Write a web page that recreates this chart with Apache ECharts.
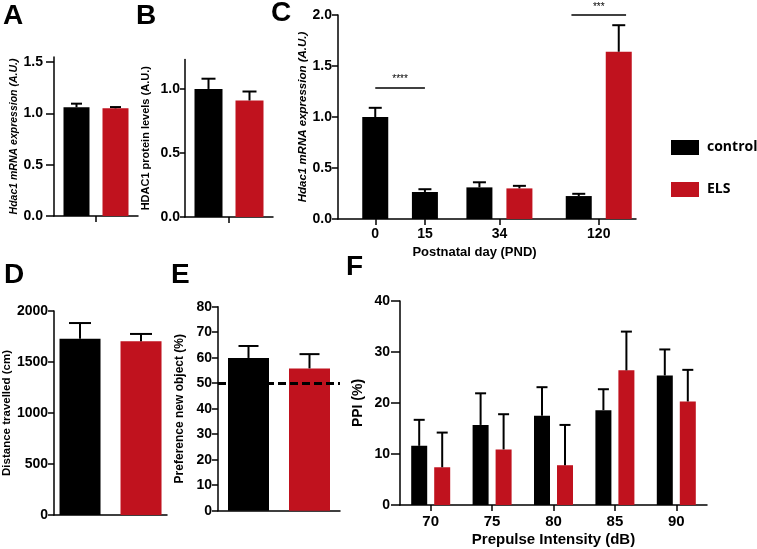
<!DOCTYPE html>
<html><head><meta charset="utf-8">
<script src="https://cdn.jsdelivr.net/npm/echarts@6/dist/echarts.min.js"></script>
<style>html,body{margin:0;padding:0;background:#fff}#chart{width:757px;height:549px}</style>
</head><body><div id="chart"></div>
<script>
// ---------------- data ----------------
const groupNames = ['control', 'ELS'];
// A: Hdac1 mRNA
const aMean = [1.06, 1.05];
const aErr = [0.035, 0.012];
const aTicks = [0, 0.5, 1.0, 1.5];
// B: HDAC1 protein
const bMean = [1.00, 0.91];
const bErr = [0.08, 0.07];
const bTicks = [0, 0.5, 1.0];
// C: Hdac1 mRNA over postnatal days
const cDays = ['0', '15', '34', '120'];
const cControlMean = [1.00, 0.265, 0.31, 0.225];
const cControlErr = [0.09, 0.027, 0.05, 0.022];
const cElsMean = [null, null, 0.30, 1.64];
const cElsErr = [null, null, 0.025, 0.26];
const cSigLabels = ['****', '***'];
const cSigLevels = [1.29, 2.0];
// D: distance travelled
const dMean = [1728, 1703];
const dErr = [154, 72];
// E: preference new object
const eMean = [59.9, 55.8];
const eErr = [4.7, 5.6];
const eChance = 50;
// F: PPI
const fDoses = ['70', '75', '80', '85', '90'];
const fControlMean = [11.6, 15.7, 17.5, 18.6, 25.4];
const fControlErr = [5.1, 6.2, 5.6, 4.1, 5.1];
const fElsMean = [7.4, 10.9, 7.8, 26.4, 20.3];
const fElsErr = [6.8, 6.9, 7.9, 7.6, 6.2];

// ---------------- styling / layout ----------------
const BLACK = '#000000', RED = '#c0121e';
const FONT = 'Liberation Sans';
const COLORS = [BLACK, RED];
const C_SLOTS = 12;
const cSlotOf = [1, 3, 6, 10];

const axisLineStyle = { color: '#000', width: 1.5 };

function errRender(offset, cap) {
  return function (params, api) {
    const x = api.value(0), m = api.value(1), e = api.value(2);
    const p0 = api.coord([x, m]);
    const p1 = api.coord([x, m + e]);
    const cx = p0[0] + offset;
    return { type: 'group', children: [
      { type: 'line', shape: { x1: cx, y1: p0[1], x2: cx, y2: p1[1] }, style: { stroke: '#000', lineWidth: 2 } },
      { type: 'line', shape: { x1: cx - cap / 2, y1: p1[1], x2: cx + cap / 2, y2: p1[1] }, style: { stroke: '#000', lineWidth: 2 } }
    ] };
  };
}
function errSeries(xi, yi, data, offset, cap) {
  return { type: 'custom', name: 'err', xAxisIndex: xi, yAxisIndex: yi, data: data,
    encode: { x: 0, y: 1 }, renderItem: errRender(offset, cap), z: 5, silent: true };
}
// two-bar panel (one category, control vs ELS)
function pairPanel(xi, yi, means, errs, bw, gap, cap) {
  const out = [];
  const off = (bw + gap) / 2;
  means.forEach(function (m, k) {
    out.push({ type: 'bar', name: groupNames[k], xAxisIndex: xi, yAxisIndex: yi, data: [m],
      barWidth: bw, barGap: (gap / bw * 100) + '%', itemStyle: { color: COLORS[k] }, z: 2 });
    out.push(errSeries(xi, yi, [[0, m, errs[k]]], k === 0 ? -off : off, cap));
  });
  return out;
}
function yAxis(gi, max, interval, tickLen, margin, name, nameGap, nameSize, italic, decimals, custom) {
  const ax = {
    type: 'value', gridIndex: gi, min: 0, max: max, interval: interval,
    axisLine: { show: true, lineStyle: axisLineStyle },
    axisTick: { show: true, length: tickLen, lineStyle: axisLineStyle },
    splitLine: { show: false },
    axisLabel: { margin: margin, color: '#000', fontFamily: FONT, fontWeight: 'bold', fontSize: 14,
      formatter: function (v) { return decimals ? v.toFixed(decimals) : String(v); } },
    name: name, nameLocation: 'middle', nameRotate: 90, nameGap: nameGap,
    nameTextStyle: { color: '#000', fontFamily: FONT, fontWeight: 'bold', fontSize: nameSize, fontStyle: italic ? 'italic' : 'normal' }
  };
  if (custom) { ax.axisLabel.customValues = custom; ax.axisTick.customValues = custom; }
  return ax;
}
function singleCatX(gi, showTick) {
  return { type: 'category', gridIndex: gi, data: [''],
    axisLine: { show: true, lineStyle: axisLineStyle },
    axisTick: { show: showTick, alignWithLabel: true, length: 6, lineStyle: axisLineStyle },
    axisLabel: { show: false } };
}

// C: slot categories
const cSlotNames = [];
for (let i = 0; i < C_SLOTS; i++) cSlotNames.push('s' + i);
const cLabelOfSlot = {};
cDays.forEach(function (d, k) { cSlotNames[cSlotOf[k]] = d; cLabelOfSlot[cSlotOf[k]] = true; });
const cPairCtrl = cSlotNames.map(function () { return '-'; });
const cPairEls = cPairCtrl.slice();
const cSingle = cPairCtrl.slice();
const cErrPairCtrl = [], cErrPairEls = [], cErrSingle = [];
cDays.forEach(function (d, k) {
  const s = cSlotOf[k];
  if (cElsMean[k] == null) {
    cSingle[s] = cControlMean[k];
    cErrSingle.push([s, cControlMean[k], cControlErr[k]]);
  } else {
    cPairCtrl[s] = cControlMean[k];
    cPairEls[s] = cElsMean[k];
    cErrPairCtrl.push([s, cControlMean[k], cControlErr[k]]);
    cErrPairEls.push([s, cElsMean[k], cElsErr[k]]);
  }
});
// significance brackets in slot units: [from slot, to slot]
const cSigSpan = [[cSlotOf[0] + 0.5, cSlotOf[1] + 0.5], [cSlotOf[3] + 0.5 - 1.1, cSlotOf[3] + 0.5 + 1.1]];

const series = [];
// A
series.push.apply(series, pairPanel(0, 0, aMean, aErr, 26, 13, 11));
// B
series.push.apply(series, pairPanel(1, 1, bMean, bErr, 28, 13, 14));
// C pairs
series.push({ type: 'bar', name: 'control', xAxisIndex: 2, yAxisIndex: 2, data: cPairCtrl, barWidth: 26, barGap: (14 / 26 * 100) + '%', itemStyle: { color: BLACK }, z: 2 });
series.push({ type: 'bar', name: 'ELS', xAxisIndex: 2, yAxisIndex: 2, data: cPairEls, barWidth: 26, barGap: (14 / 26 * 100) + '%', itemStyle: { color: RED }, z: 2 });
series.push({ type: 'bar', name: 'control', xAxisIndex: 3, yAxisIndex: 2, data: cSingle, barWidth: 26, itemStyle: { color: BLACK }, z: 2 });
series.push(errSeries(2, 2, cErrPairCtrl, -20, 13));
series.push(errSeries(2, 2, cErrPairEls, 20, 13));
series.push(errSeries(2, 2, cErrSingle, 0, 13));
series.push({ type: 'line', name: 'sig', xAxisIndex: 4, yAxisIndex: 2, data: [], silent: true,
  markLine: { silent: true, symbol: 'none', animation: false,
    lineStyle: { color: '#000', width: 1.5, type: 'solid' },
    label: { show: true, position: 'insideMiddleTop', distance: 3, color: '#000', fontSize: 10, fontFamily: FONT },
    data: cSigLabels.map(function (lab, k) {
      return [{ coord: [cSigSpan[k][0], cSigLevels[k]], label: { formatter: lab } },
              { coord: [cSigSpan[k][1], cSigLevels[k]] }];
    }) } });
// D
series.push.apply(series, pairPanel(5, 3, dMean, dErr, 41, 20, 22));
// E
const ePanel = pairPanel(6, 4, eMean, eErr, 41, 20, 20);
series.push.apply(series, ePanel);
series.push({ type: 'line', name: 'chance', xAxisIndex: 6, yAxisIndex: 4, data: [], silent: true, z: 10,
  markLine: { silent: true, symbol: 'none', animation: false, z: 10,
    lineStyle: { color: '#000', width: 3, type: [8, 4] }, label: { show: false },
    data: [{ yAxis: eChance }] } });
// F
series.push({ type: 'bar', name: 'control', xAxisIndex: 7, yAxisIndex: 5, data: fControlMean, barWidth: 16, barGap: (7 / 16 * 100) + '%', itemStyle: { color: BLACK }, z: 2 });
series.push({ type: 'bar', name: 'ELS', xAxisIndex: 7, yAxisIndex: 5, data: fElsMean, barWidth: 16, barGap: (7 / 16 * 100) + '%', itemStyle: { color: RED }, z: 2 });
series.push(errSeries(7, 5, fControlMean.map(function (m, i) { return [i, m, fControlErr[i]]; }), -11.5, 11));
series.push(errSeries(7, 5, fElsMean.map(function (m, i) { return [i, m, fElsErr[i]]; }), 11.5, 11));

const letter = function (t, l, tp) {
  return { text: t, left: l, top: tp, padding: 0,
    textStyle: { fontFamily: FONT, fontWeight: 'bold', fontSize: 28, color: '#000' } };
};

const option = {
  animation: false,
  backgroundColor: '#ffffff',
  title: [letter('A', 3, 2), letter('B', 136, 2), letter('C', 271, -1), letter('D', 4, 261), letter('E', 171, 261), letter('F', 346, 253)],
  legend: { data: groupNames, orient: 'vertical', left: 666, top: 135, itemWidth: 28, itemHeight: 15, itemGap: 27,
    icon: 'rect', selectedMode: false,
    textStyle: { fontFamily: 'Open Sans', fontWeight: 'bold', fontSize: 14, color: '#000', padding: [0, 0, 0, 3] } },
  grid: [
    { left: 54, top: 57, width: 84, height: 159 },
    { left: 185, top: 59.5, width: 88, height: 157.5 },
    { left: 338, top: 15, width: 298, height: 204 },
    { left: 49, top: 311, width: 118, height: 204 },
    { left: 218, top: 306.7, width: 122, height: 204 },
    { left: 400, top: 301, width: 307, height: 204 }
  ],
  xAxis: [
    singleCatX(0, true),
    singleCatX(1, true),
    { type: 'category', gridIndex: 2, data: cSlotNames,
      axisLine: { show: true, lineStyle: axisLineStyle },
      axisTick: { show: true, alignWithLabel: true, length: 6, lineStyle: axisLineStyle,
        interval: function (i) { return !!cLabelOfSlot[i]; } },
      axisLabel: { color: '#000', fontFamily: FONT, fontWeight: 'bold', fontSize: 14, margin: 8,
        interval: function (i) { return !!cLabelOfSlot[i]; } },
      name: 'Postnatal day (PND)', nameLocation: 'middle', nameGap: 27,
      nameTextStyle: { color: '#000', fontFamily: FONT, fontWeight: 'bold', fontSize: 13, padding: [0, 25, 0, 0] } },
    { type: 'category', gridIndex: 2, data: cSlotNames, show: false },
    { type: 'value', gridIndex: 2, min: 0, max: C_SLOTS, show: false },
    singleCatX(3, false),
    singleCatX(4, false),
    { type: 'category', gridIndex: 5, data: fDoses,
      axisLine: { show: true, lineStyle: axisLineStyle },
      axisTick: { show: true, alignWithLabel: true, length: 6, lineStyle: axisLineStyle },
      axisLabel: { color: '#000', fontFamily: FONT, fontWeight: 'bold', fontSize: 15, margin: 9 },
      name: 'Prepulse Intensity (dB)', nameLocation: 'middle', nameGap: 27,
      nameTextStyle: { color: '#000', fontFamily: FONT, fontWeight: 'bold', fontSize: 15 } }
  ],
  yAxis: [
    yAxis(0, 1.55, 0.5, 8, 11, 'Hdac1 mRNA expression (A.U.)', 34, 10.5, true, 1, aTicks),
    yAxis(1, 1.23, 0.5, 5, 5, 'HDAC1 protein levels (A.U.)', 34, 11, false, 1, bTicks),
    yAxis(2, 2.0, 0.5, 6, 6, 'Hdac1 mRNA expression (A.U.)', 29, 11.5, true, 1, null),
    yAxis(3, 2000, 500, 6, 6, 'Distance travelled (cm)', 36, 11.5, false, 0, null),
    yAxis(4, 80, 10, 6, 6, 'Preference new object (%)', 32, 12, false, 0, null),
    yAxis(5, 40, 10, 9, 10, 'PPI (%)', 35, 14, false, 0, null)
  ],
  series: series
};

const chart = echarts.init(document.getElementById('chart'), null, { renderer: 'canvas' });
chart.setOption(option);
</script>
</body></html>
